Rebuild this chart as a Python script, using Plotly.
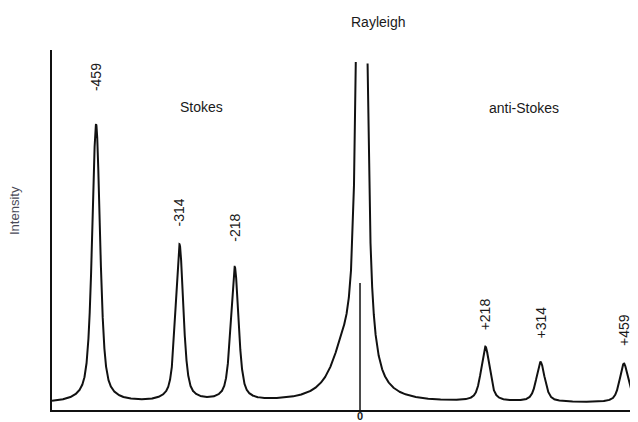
import numpy as np
import plotly.graph_objects as go

# ---- data ----
# Raman shift (cm^-1) of each band, peak height (arbitrary intensity units), half width (cm^-1)
peak_shift = [-459, -314, -218, 218, 314, 459]
peak_height = [285, 164, 141, 62, 47, 46]
peak_halfwidth = [8.2, 8.0, 8.0, 8.7, 8.7, 8.7]
peak_labels = ["-459", "-314", "-218", "+218", "+314", "+459"]
label_y = [333, 198, 182, 96, 87, 80]

# Rayleigh line (off scale) and its weak low-frequency wing
rayleigh_shift = [3, -30]
rayleigh_height = [6000, 40]
rayleigh_halfwidth = [2.45, 26]
rayleigh_cutoff = 348          # the chart cuts the Rayleigh line off here

baseline = 7
zero_marker_height = 127

region_labels = ["Stokes", "anti-Stokes"]
region_x = [-275, 285]
region_y = [303, 302]

x_range = [-535.7, 483.5]
y_range = [0, 360]

# ---- build the spectrum ----
x = np.linspace(x_range[0], x_range[1], 40000)


def lorentz(x, x0, hw):
    return hw ** 2 / (hw ** 2 + (x - x0) ** 2)


def gauss(x, x0, hw):
    return np.exp(-np.log(2) * ((x - x0) / hw) ** 2)


eta = 0.6
y = np.full_like(x, float(baseline))
for x0, h, hw in zip(peak_shift, peak_height, peak_halfwidth):
    y += (h - baseline) * (eta * lorentz(x, x0, hw) + (1 - eta) * gauss(x, x0, hw))
for x0, h, hw in zip(rayleigh_shift, rayleigh_height, rayleigh_halfwidth):
    y += h * lorentz(x, x0, hw)

y_plot = np.where(y > rayleigh_cutoff, np.nan, y)

fig = go.Figure()
fig.add_trace(go.Scatter(x=x, y=y_plot, mode="lines",
                         line=dict(color="#111111", width=2),
                         connectgaps=False, hoverinfo="skip", showlegend=False))
# zero-shift marker
fig.add_trace(go.Scatter(x=[0, 0], y=[0, zero_marker_height], mode="lines",
                         line=dict(color="#111111", width=1.5),
                         hoverinfo="skip", showlegend=False))

font = "Liberation Sans, Arial, Helvetica, sans-serif"
txt = "#1a1a1a"
ann = []
for xs, lab, ly in zip(peak_shift, peak_labels, label_y):
    ann.append(dict(x=xs, y=ly, xref="x", yref="y", text=lab, showarrow=False,
                    textangle=-90, xanchor="center", yanchor="middle",
                    font=dict(family=font, size=14, color=txt)))
for lab, rx, ry in zip(region_labels, region_x, region_y):
    ann.append(dict(x=rx, y=ry, xref="x", yref="y", text=lab, showarrow=False,
                    xanchor="center", yanchor="middle",
                    font=dict(family=font, size=14, color=txt)))
ann.append(dict(x=31, y=1.078, xref="x", yref="paper", text="Rayleigh", showarrow=False,
                xanchor="center", yanchor="middle",
                font=dict(family=font, size=14, color=txt)))
ann.append(dict(x=-0.063, y=0.553, xref="paper", yref="paper", text="Intensity",
                showarrow=False, textangle=-90, xanchor="center", yanchor="middle",
                font=dict(family=font, size=13, color="#4a4a58")))
ann.append(dict(x=0, y=-0.0155, xref="x", yref="paper", text="<b>0</b>", showarrow=False,
                xanchor="center", yanchor="middle",
                font=dict(family=font, size=11, color=txt)))

axis_common = dict(showline=True, linecolor="#111111", linewidth=2, showgrid=False,
                   zeroline=False, showticklabels=False, ticks="")
# the page body adds an 8 px margin, so the figure is 8 px smaller than the window
fig.update_layout(
    width=630, height=414,
    margin=dict(l=44, r=0, t=42, b=12),
    paper_bgcolor="white", plot_bgcolor="white",
    xaxis=dict(range=x_range, **axis_common),
    yaxis=dict(range=y_range, **axis_common),
    annotations=ann,
)

fig.write_html("out.html")
